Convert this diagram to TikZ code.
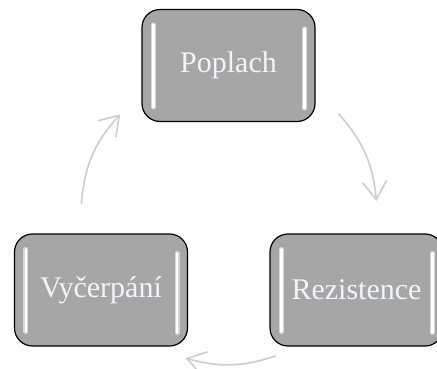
\documentclass[tikz,border=0pt]{standalone}
\usepackage{fontspec}
\setmainfont{Liberation Serif}
\usetikzlibrary{arrows.meta,calc}

\definecolor{BoxGray}{RGB}{166,166,166}
\definecolor{LabelWhite}{RGB}{240,245,252}
\definecolor{ArcGray}{RGB}{205,205,205}

\begin{document}
\begin{tikzpicture}[x=1pt,y=1pt]
			\tikzstyle{Phase}	= [rectangle, rounded corners=18pt, draw=black, line width=1.2pt, fill=BoxGray, minimum width=173pt, minimum height=112pt, inner sep=0pt, text=LabelWhite, font=\fontsize{30}{36}\selectfont]
			\tikzstyle{Halo}	= [white!55!BoxGray, line width=5pt, line cap=round]
			\tikzstyle{Glint}	= [white, line width=2.6pt, line cap=round]
			\tikzstyle{Cycle}	= [ArcGray, line width=1.6pt, -{Straight Barb[length=18pt,width=24pt]}]

			\useasboundingbox (0,0) rectangle (437,-369);

			\node (pop) at (228.5,-65.5) [Phase] {Poplach};
			\node (rez) at (356.5,-290) [Phase] {Rezistence};
			\node (vyc) at (101,-290) [Phase] {Vyčerpání};

			% light bars inside the boxes
			\foreach \n in {pop,rez,vyc} {
				\draw [Halo] ([shift={(12,-16)}]\n.north west) -- ([shift={(12,15)}]\n.south west);
				\draw [Glint] ([shift={(12,-16)}]\n.north west) -- ([shift={(12,15)}]\n.south west);
				\draw [Halo] ([shift={(-11,-20)}]\n.north east) -- ([shift={(-11,14)}]\n.south east);
				\draw [Glint] ([shift={(-11,-20)}]\n.north east) -- ([shift={(-11,14)}]\n.south east);
			}

			\coordinate (c) at (227,-214);
			\coordinate (a1) at ($(c)+(42:150)$);
			\coordinate (b1) at ($(c)+(5:150)$);
			\coordinate (a2) at ($(c)+(-71:150)$);
			\coordinate (b2) at ($(c)+(-106:150)$);
			\coordinate (a3) at ($(c)+(176:146)$);
			\coordinate (b3) at ($(c)+(137:146)$);

			\draw [Cycle] (a1) to [bend left=18] (b1);
			\draw [Cycle] (a2) to [bend left=17] (b2);
			\draw [Cycle] (a3) to [bend left=19] (b3);
		\end{tikzpicture}
\end{document}
